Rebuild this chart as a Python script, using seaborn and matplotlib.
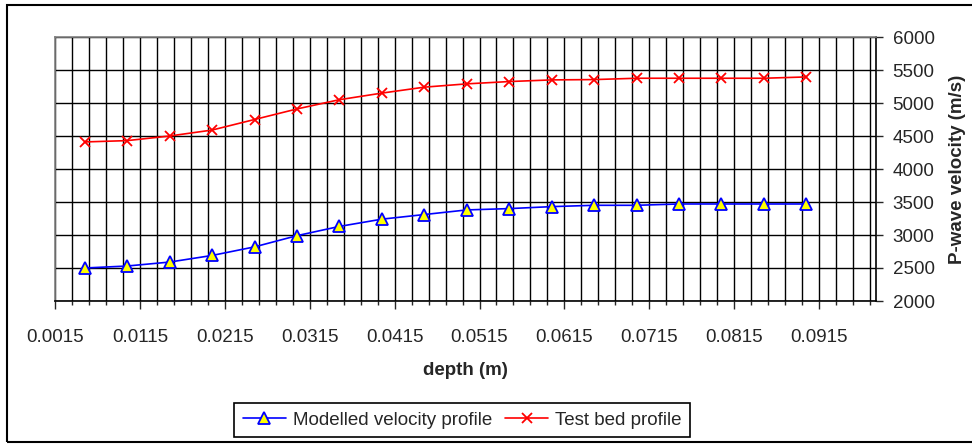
import matplotlib
matplotlib.use("Agg")
import matplotlib.pyplot as plt
import seaborn as sns
import pandas as pd
from matplotlib.ticker import FixedLocator, MultipleLocator
from matplotlib.patches import Rectangle

# data
depth = [0.005, 0.010, 0.015, 0.020, 0.025, 0.030, 0.035, 0.040, 0.045,
         0.050, 0.055, 0.060, 0.065, 0.070, 0.075, 0.080, 0.085, 0.090]
modelled = [2500, 2530, 2590, 2690, 2820, 2990, 3130, 3240, 3310,
            3380, 3400, 3430, 3450, 3450, 3470, 3470, 3470, 3470]
test_bed = [4410, 4430, 4500, 4590, 4750, 4910, 5050, 5150, 5240,
            5290, 5325, 5350, 5355, 5375, 5375, 5375, 5375, 5395]
x_ticks = [0.0015, 0.0115, 0.0215, 0.0315, 0.0415, 0.0515, 0.0615, 0.0715, 0.0815, 0.0915]
x_tick_labels = ["0.0015", "0.0115", "0.0215", "0.0315", "0.0415",
                 "0.0515", "0.0615", "0.0715", "0.0815", "0.0915"]
y_ticks = [2000, 2500, 3000, 3500, 4000, 4500, 5000, 5500, 6000]

df = pd.DataFrame({"depth": depth, "modelled": modelled, "test_bed": test_bed})

sns.set_style("white")
plt.rcParams["font.family"] = ["Liberation Sans", "DejaVu Sans"]

fig = plt.figure(figsize=(9.72, 4.44), dpi=100)
ax = fig.add_axes([55 / 972, 1 - 301 / 444, (876 - 55) / 972, (301 - 37) / 444])

# outer chart border
fig.patches.append(Rectangle((7 / 972, 1 - 442 / 444), 1.2, (442 - 5) / 444,
                             transform=fig.transFigure, fill=False,
                             edgecolor="black", linewidth=1.5, zorder=0))

sns.lineplot(data=df, x="depth", y="modelled", ax=ax, color="#0000ff", linewidth=1.2,
             marker="^", markersize=8, markerfacecolor="#ffff00",
             markeredgecolor="#0000ff", markeredgewidth=1.3,
             label="Modelled velocity profile", zorder=3)
sns.lineplot(data=df, x="depth", y="test_bed", ax=ax, color="#ff0000", linewidth=1.2,
             marker="x", markersize=7, markeredgecolor="#ff0000", markeredgewidth=1.3,
             label="Test bed profile", zorder=3)

ax.set_xlim(0.0015, 0.0982)
ax.set_ylim(2000, 6000)

ax.xaxis.set_major_locator(FixedLocator(x_ticks))
ax.set_xticklabels(x_tick_labels)
ax.xaxis.set_minor_locator(MultipleLocator(0.002, offset=0.0015))
ax.set_yticks(y_ticks)
ax.yaxis.tick_right()
ax.yaxis.set_label_position("right")

ax.grid(which="both", axis="x", color="black", linewidth=1.0)
ax.grid(which="major", axis="y", color="black", linewidth=1.0)
ax.set_axisbelow(True)

ax.tick_params(axis="x", which="major", direction="out", length=6, width=1,
               labelsize=13.5, pad=14, bottom=True)
ax.tick_params(axis="x", which="minor", direction="out", length=3, width=1, bottom=True)
ax.tick_params(axis="y", direction="out", length=5, width=1, labelsize=13.5,
               right=True, left=False, pad=7)

for side in ["top", "left"]:
    ax.spines[side].set_color("#808080")
for side in ["bottom", "right"]:
    ax.spines[side].set_color("black")
for sp in ax.spines.values():
    sp.set_linewidth(1.2)

ax.set_xlabel("depth (m)", fontsize=13.5, fontweight="bold", labelpad=12)
ax.set_ylabel("P-wave velocity (m/s)", fontsize=13.5, fontweight="bold", labelpad=10)

leg = ax.legend(loc="center", bbox_to_anchor=(462 / 972, 1 - 420 / 444),
                bbox_transform=fig.transFigure, ncol=2, fontsize=13.5, frameon=True,
                fancybox=False, framealpha=1, edgecolor="black", borderpad=0.45,
                handlelength=2.3, columnspacing=0.7, handletextpad=0.35)
leg.get_frame().set_linewidth(1.2)

fig.savefig("out.png", dpi=100)
